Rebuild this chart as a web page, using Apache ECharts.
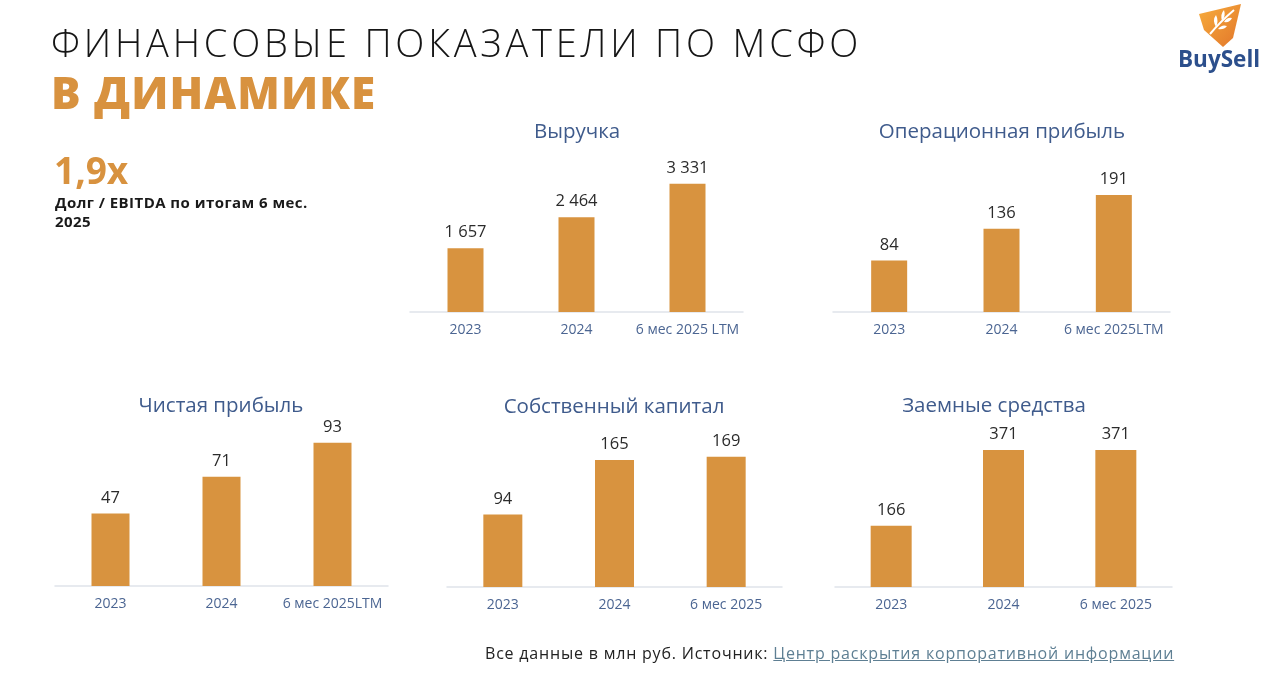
<!DOCTYPE html>
<html>
<head>
    <meta charset="UTF-8">
    <title>Финансовые показатели по МСФО</title>
    <script src="https://cdn.jsdelivr.net/npm/echarts/dist/echarts.min.js"></script>
    <style>
        html, body { margin: 0; padding: 0; background: #fff; }
        body { width: 1280px; height: 693px; position: relative; overflow: hidden; font-family: "Open Sans", "Noto Sans", sans-serif; }
        #main { position: absolute; left: 0; top: 0; width: 1280px; height: 693px; }
        .abs { position: absolute; white-space: nowrap; }
        #h1 { left: 51px; top: 18px; font-size: 38px; font-weight: 300; color: #151515; letter-spacing: 3.8px; line-height: 48px; }
        #h2 { left: 51px; top: 66px; font-size: 44px; font-weight: 800; color: #D8923F; letter-spacing: 1.1px; line-height: 52px; }
        #ratio { left: 54px; top: 146px; font-size: 37px; font-weight: 700; color: #D8923F; line-height: 48px; }
        #ratioTxt { left: 55px; top: 193px; font-size: 15px; font-weight: 700; color: #1a1a1a; line-height: 19px; letter-spacing: 0.45px; }
        #foot { left: 485px; top: 642px; font-size: 16px; color: #222; line-height: 22px; letter-spacing: 0.8px; }
        #foot a { color: #5e7f93; text-decoration: underline; }
        #logoTxt { left: 1178px; top: 45px; font-size: 22.5px; font-weight: 700; color: #2c4f8c; line-height: 28px; }
        #logo { left: 1196px; top: 2px; }
    </style>
</head>
<body>
    <div id="main"></div>
    <div class="abs" id="h1">ФИНАНСОВЫЕ ПОКАЗАТЕЛИ ПО МСФО</div>
    <div class="abs" id="h2">В ДИНАМИКЕ</div>
    <div class="abs" id="ratio">1,9x</div>
    <div class="abs" id="ratioTxt">Долг / EBITDA по итогам 6 мес.<br>2025</div>
    <div class="abs" id="foot">Все данные в млн руб. Источник: <a>Центр раскрытия корпоративной информации</a></div>
    <div class="abs" id="logoTxt">BuySell</div>
    <svg class="abs" id="logo" width="50" height="48" viewBox="0 0 50 48">
        <defs>
            <linearGradient id="lg" x1="0" y1="0" x2="1" y2="1">
                <stop offset="0" stop-color="#f7ad3d"/>
                <stop offset="1" stop-color="#e2762a"/>
            </linearGradient>
        </defs>
        <path d="M3 12 L45 2 L37 36 L27 45 L8 28 Z" fill="url(#lg)"/>
        <path d="M14 32 Q24 20 38 8" stroke="#fff" stroke-width="2" fill="none"/>
        <path d="M20 25 Q16 18 20 13 Q23 19 20 25 Z M26 19 Q24 12 28 8 Q30 14 26 19 Z M22 27 Q28 28 31 24 Q26 22 22 27 Z M28 20 Q34 21 36 16 Q31 15 28 20 Z" fill="#fff"/>
    </svg>

    <script type="text/javascript">
        // данные (млн руб.)
        const catsRevenue = ['2023', '2024', '6 мес 2025 LTM'];
        const catsLtm = ['2023', '2024', '6 мес 2025LTM'];
        const catsHalf = ['2023', '2024', '6 мес 2025'];

        const revenue = [1657, 2464, 3331];
        const opProfit = [84, 136, 191];
        const netProfit = [47, 71, 93];
        const equity = [94, 165, 169];
        const borrowed = [166, 371, 371];

        const titles = ['Выручка', 'Операционная прибыль', 'Чистая прибыль', 'Собственный капитал', 'Заемные средства'];

        const barColor = '#D8933F';
        const font = '"Open Sans", "Noto Sans", sans-serif';

        // панели: grid + max оси
        const panels = [
            { cats: catsRevenue, data: revenue, max: 4000, grid: { left: 410, top: 158, width: 333, height: 154 }, bw: 36, tx: 572, ty: 117 },
            { cats: catsLtm, data: opProfit, max: 250, grid: { left: 833, top: 159, width: 337, height: 153 }, bw: 36, tx: 997, ty: 117 },
            { cats: catsLtm, data: netProfit, max: 100, grid: { left: 55, top: 432, width: 333, height: 154 }, bw: 38, tx: 216, ty: 391 },
            { cats: catsHalf, data: equity, max: 200, grid: { left: 447, top: 433, width: 335, height: 154 }, bw: 39, tx: 609, ty: 392 },
            { cats: catsHalf, data: borrowed, max: 420, grid: { left: 835, top: 432, width: 337, height: 155 }, bw: 41, tx: 989, ty: 391 }
        ];

        function fmt(v) {
            return String(v).replace(/\B(?=(\d{3})+(?!\d))/g, ' ');
        }

        var myChart = echarts.init(document.getElementById('main'), null, { renderer: 'canvas' });

        var option = {
            animation: false,
            title: panels.map((p, i) => ({
                text: titles[i],
                left: p.tx,
                top: p.ty,
                textAlign: 'center',
                textStyle: { color: '#3f5b8c', fontSize: 20.5, fontWeight: 400, fontFamily: font }
            })),
            grid: panels.map(p => p.grid),
            xAxis: panels.map((p, i) => ({
                type: 'category',
                gridIndex: i,
                data: p.cats,
                axisLine: { lineStyle: { color: '#dfe4ea', width: 1.5 } },
                axisTick: { show: false },
                axisLabel: { color: '#4b6592', fontSize: 14, margin: 11, fontFamily: font, interval: 0 }
            })),
            yAxis: panels.map((p, i) => ({
                type: 'value',
                gridIndex: i,
                min: 0,
                max: p.max,
                show: false,
                splitLine: { show: false }
            })),
            series: panels.map((p, i) => ({
                type: 'bar',
                xAxisIndex: i,
                yAxisIndex: i,
                data: p.data,
                barWidth: p.bw,
                itemStyle: { color: barColor },
                label: {
                    show: true,
                    position: 'top',
                    distance: 7,
                    color: '#2b2b2b',
                    fontSize: 16.5,
                    fontFamily: font,
                    formatter: params => fmt(params.value)
                }
            }))
        };

        myChart.setOption(option);
    </script>
</body>
</html>
